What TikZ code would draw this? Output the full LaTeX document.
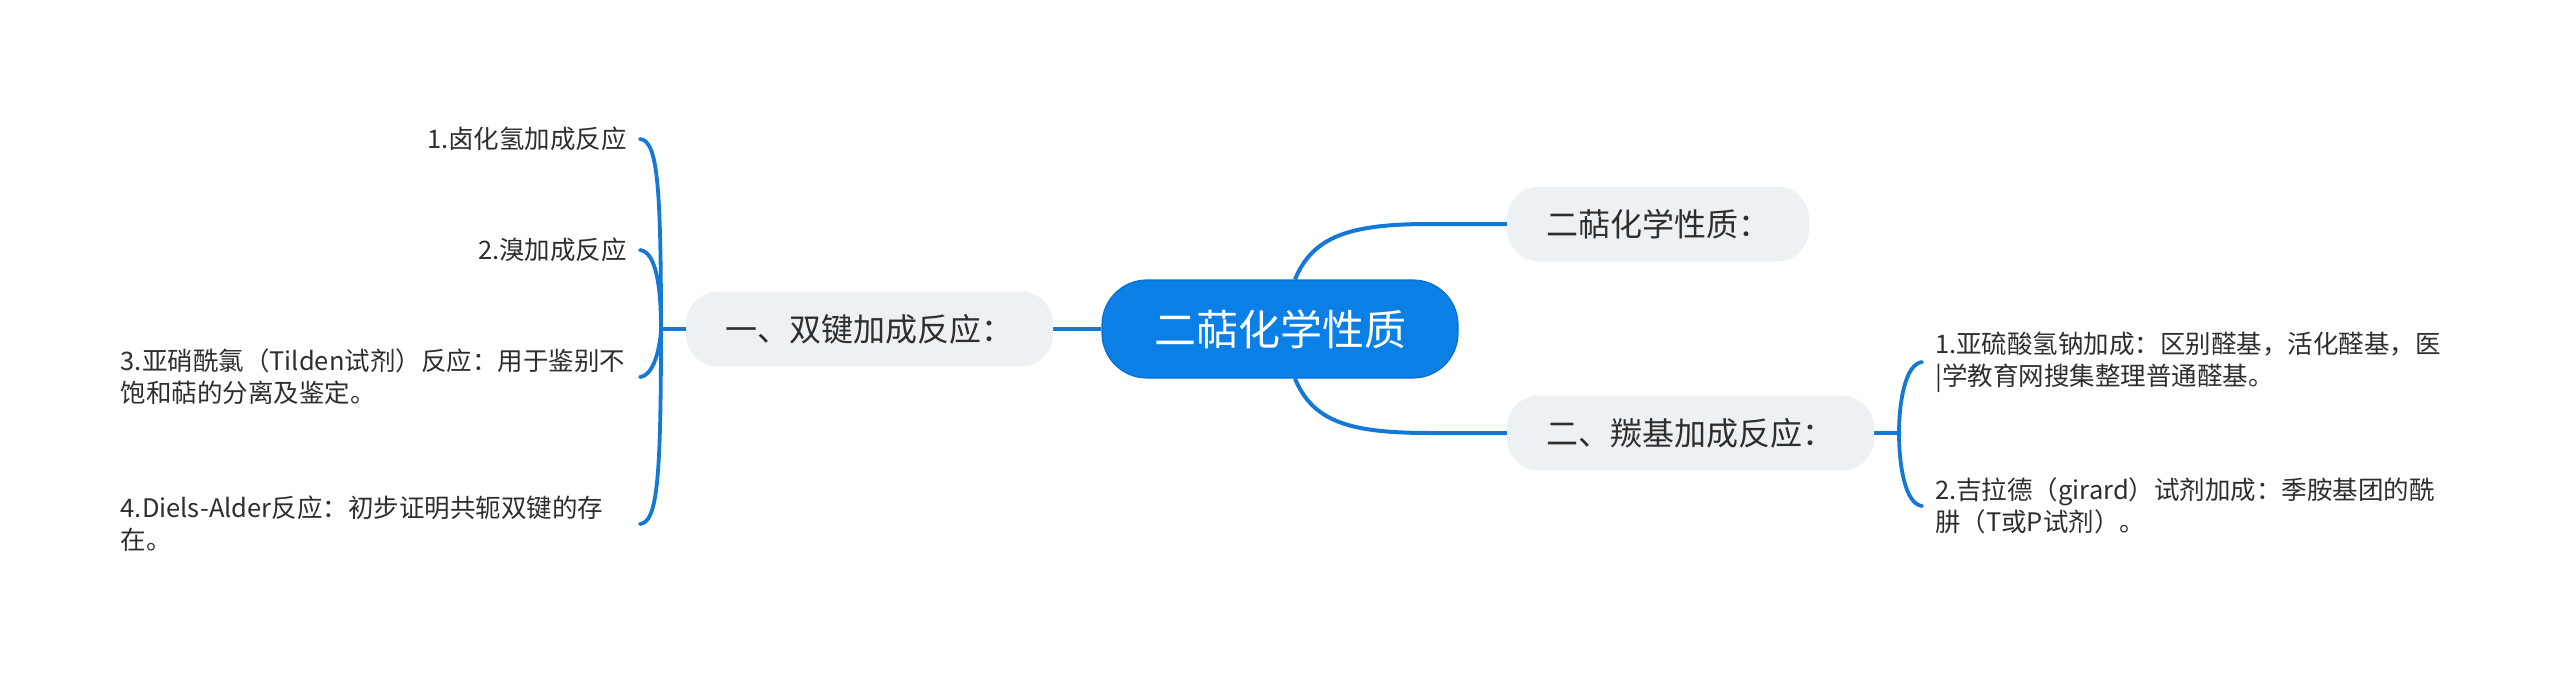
\documentclass[tikz,border=0pt]{standalone}
\usepackage{fontspec}
\setmainfont{Noto Sans CJK SC}
\usetikzlibrary{backgrounds,calc}
\definecolor{mainblue}{HTML}{0A7FE6}
\definecolor{rootedge}{HTML}{0B6FCF}
\definecolor{linkblue}{HTML}{1479D6}
\definecolor{topicgray}{HTML}{EEF1F4}
\definecolor{txt}{HTML}{2E2E2E}
\begin{document}
\begin{tikzpicture}[x=1pt,y=-1pt,
  rootnode/.style={fill=mainblue, draw=rootedge, line width=1.2pt, rounded corners=45pt,
    minimum width=356pt, minimum height=98pt, inner sep=0pt, text=white,
    font=\fontsize{42}{50}\selectfont},
  topic/.style={fill=topicgray, rounded corners=32pt, minimum height=75pt, inner sep=0pt,
    text=txt, font=\fontsize{32}{38}\selectfont},
  leaf/.style={inner sep=0pt, text=txt, align=left, font=\fontsize{25.5}{32}\selectfont},
  link/.style={draw=linkblue, line width=4pt},
  brace/.style={draw=linkblue, line width=3.8pt, line cap=round}]
\useasboundingbox (0,0) rectangle (2560,674);

\node[rootnode] (root) at (1280,329) {二萜化学性质};
\node[topic, minimum width=367pt] (n1) at (869.5,329) {一、双键加成反应：};
\node[topic, minimum width=302pt] (n2) at (1658,224) {二萜化学性质：};
\node[topic, minimum width=367pt] (n3) at (1690.5,433) {二、羰基加成反应：};

\node[leaf, anchor=east] (l1) at (627,139) {1.卤化氢加成反应};
\node[leaf, anchor=east] (l2) at (627,250) {2.溴加成反应};
\node[leaf, anchor=east, text width=506pt] (l3) at (627,377) {3.亚硝酰氯（Tilden试剂）反应：用于鉴别不\\饱和萜的分离及鉴定。};
\node[leaf, anchor=east, text width=506pt] (l4) at (627,524) {4.Diels-Alder反应：初步证明共轭双键的存\\在。};

\node[leaf, anchor=west, text width=506pt] (r1) at (1935,362) {1.亚硫酸氢钠加成：区别醛基，活化醛基，医\\|学教育网搜集整理普通醛基。};
\node[leaf, anchor=west, text width=506pt] (r2) at (1935,506) {2.吉拉德（girard）试剂加成：季胺基团的酰\\肼（T或P试剂）。};

\coordinate (jl) at (661,329);
\coordinate (jr) at (1899,433);

\begin{scope}[on background layer]
\draw[link] (root.west) -- (n1.east);
\draw[link] ([xshift=15pt]root.north) .. controls (1313,236) and (1350,224) .. (1430,224) -- (n2.west);
\draw[link] ([xshift=15pt]root.south) .. controls (1313,422) and (1350,433) .. (1430,433) -- (n3.west);
\draw[link] (n1.west) -- (jl);
\draw[link] (n3.east) -- (jr);
\draw[brace] (jl) .. controls (661,180) and (657,141) .. ([xshift=13pt]l1.east);
\draw[brace] (jl) .. controls (661,291) and (657,252) .. ([xshift=13pt]l2.east);
\draw[brace] (jl) .. controls (661,336) and (657,375) .. ([xshift=13pt]l3.east);
\draw[brace] (jl) .. controls (661,483) and (657,522) .. ([xshift=13pt]l4.east);
\draw[brace] (jr) .. controls (1899,403) and (1905,364) .. ([xshift=-13pt]r1.west);
\draw[brace] (jr) .. controls (1899,465) and (1905,504) .. ([xshift=-13pt]r2.west);
\end{scope}
\end{tikzpicture}
\end{document}
